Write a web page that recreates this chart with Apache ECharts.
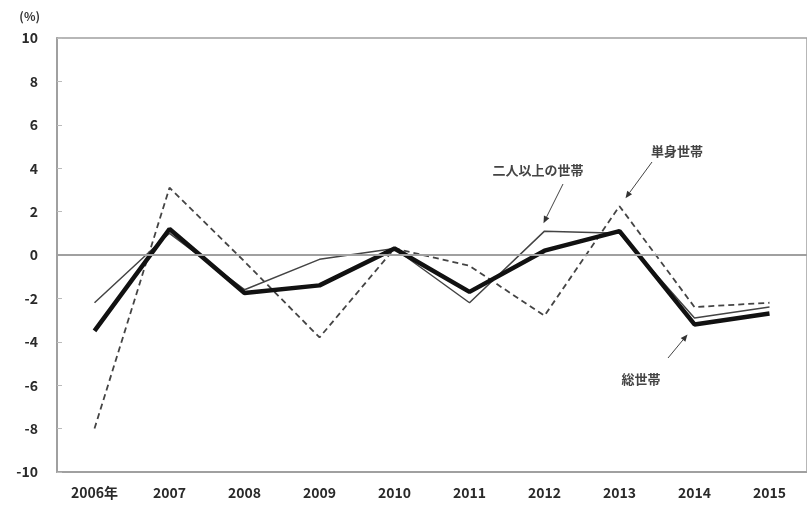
<!DOCTYPE html>
<html>
<head>
<meta charset="utf-8">
<script src="https://cdn.jsdelivr.net/npm/echarts@6/dist/echarts.min.js"></script>
<style>
html,body{margin:0;padding:0;background:#fff;}
#chart{width:807px;height:506px;}
</style>
</head>
<body>
<div id="chart"></div>
<script>
// Year-on-year change of household consumption (%)
const years = ['2006年', '2007', '2008', '2009', '2010', '2011', '2012', '2013', '2014', '2015'];
const totalHouseholds = [-3.5, 1.2, -1.75, -1.4, 0.3, -1.7, 0.2, 1.1, -3.2, -2.7];
const multiHouseholds = [-2.2, 1.0, -1.6, -0.2, 0.3, -2.2, 1.1, 1.0, -2.9, -2.4];
const singleHouseholds = [-8.0, 3.1, -0.3, -3.8, 0.3, -0.5, -2.8, 2.25, -2.4, -2.2];
const yTicks = [-10, -8, -6, -4, -2, 0, 2, 4, 6, 8, 10];

const labelFont = '"Noto Sans CJK JP", sans-serif';
const chart = echarts.init(document.getElementById('chart'));

chart.setOption({
  animation: false,
  backgroundColor: '#fff',
  grid: {
    left: 57, top: 38, right: -11, bottom: 34,
    show: true, borderColor: '#a0a0a0', borderWidth: 1.5, backgroundColor: 'transparent'
  },
  xAxis: {
    type: 'category',
    data: years,
    boundaryGap: true,
    axisLine: { onZero: false, lineStyle: { color: '#a0a0a0', width: 2 } },
    axisTick: { show: false },
    axisLabel: { color: '#2a2a2a', fontSize: 14, fontWeight: 'bold', fontFamily: labelFont, margin: 14 }
  },
  yAxis: {
    type: 'value',
    min: yTicks[0], max: yTicks[yTicks.length - 1], interval: 2,
    name: '(%)',
    nameLocation: 'end',
    nameGap: 16,
    nameTextStyle: { color: '#333', fontSize: 12, fontWeight: 'bold', fontFamily: labelFont, align: 'right', padding: [0, 17, 0, 0] },
    axisLine: { show: true, lineStyle: { color: '#a0a0a0', width: 2 } },
    axisTick: { show: true, inside: true, length: 5, lineStyle: { color: '#bbb' } },
    splitLine: { show: false },
    axisLabel: { color: '#2a2a2a', fontSize: 14, fontWeight: 'bold', fontFamily: labelFont, margin: 19 }
  },
  series: [
    {
      name: '二人以上の世帯', type: 'line', data: multiHouseholds, symbol: 'none',
      lineStyle: { color: '#444', width: 1.5 }, z: 3,
      markLine: {
        silent: true, symbol: 'none', label: { show: false },
        lineStyle: { color: '#a0a0a0', type: 'solid', width: 2 },
        data: [{ yAxis: 0 }]
      }
    },
    {
      name: '単身世帯', type: 'line', data: singleHouseholds, symbol: 'none',
      lineStyle: { color: '#444', width: 1.8, type: [6, 4] }, z: 2
    },
    {
      name: '総世帯', type: 'line', data: totalHouseholds, symbol: 'none',
      lineStyle: { color: '#111', width: 4.5 }, z: 4
    }
  ]
});

// Callout labels with arrows pointing at the lines
function arrow(fromX, fromY, toX, toY) {
  const ang = Math.atan2(toY - fromY, toX - fromX);
  const len = 7, half = 3;
  const bx = toX - len * Math.cos(ang), by = toY - len * Math.sin(ang);
  const px = -Math.sin(ang) * half, py = Math.cos(ang) * half;
  return [
    { type: 'line', shape: { x1: fromX, y1: fromY, x2: bx, y2: by }, style: { stroke: '#444', lineWidth: 1 } },
    { type: 'polygon', shape: { points: [[toX, toY], [bx + px, by + py], [bx - px, by - py]] }, style: { fill: '#333' } }
  ];
}
function callout(text, tx, ty, fromX, fromY, dataPt, dx, dy) {
  const p = chart.convertToPixel({ gridIndex: 0 }, dataPt);
  return [
    { type: 'text', x: tx, y: ty, style: { text: text, fill: '#444', font: 'bold 13px ' + labelFont, align: 'center', verticalAlign: 'middle' } }
  ].concat(arrow(fromX, fromY, p[0] + dx, p[1] + dy));
}

const g = []
  .concat(callout('二人以上の世帯', 538, 170, 563, 184, [6, multiHouseholds[6]], -1, -8))
  .concat(callout('単身世帯', 677, 151, 652, 162, [7, singleHouseholds[7]], 6, -8))
  .concat(callout('総世帯', 641, 379, 668, 358, [8, totalHouseholds[8]], -7, 10));
chart.setOption({ graphic: g });
</script>
</body>
</html>
